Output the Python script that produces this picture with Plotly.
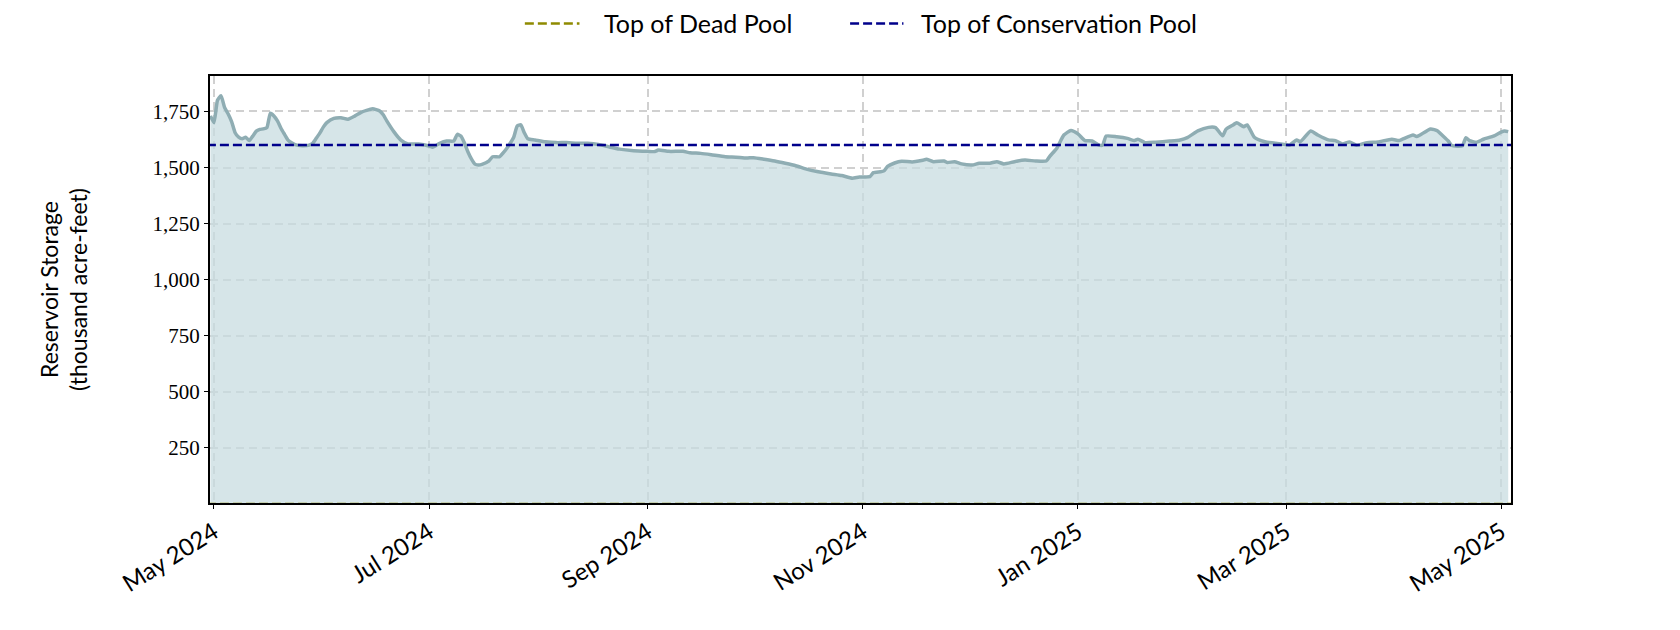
import plotly.graph_objects as go

# reservoir storage readings (thousand acre-feet)
dates = [
    "2024-04-30", "2024-05-01", "2024-05-02", "2024-05-03", "2024-05-04", "2024-05-05",
    "2024-05-06", "2024-05-07", "2024-05-08", "2024-05-09", "2024-05-10", "2024-05-11",
    "2024-05-12", "2024-05-13", "2024-05-14", "2024-05-15", "2024-05-16", "2024-05-17",
    "2024-05-18", "2024-05-19", "2024-05-20", "2024-05-21", "2024-05-22", "2024-05-23",
    "2024-05-24", "2024-05-26", "2024-05-28", "2024-05-29", "2024-05-30", "2024-05-31",
    "2024-06-01", "2024-06-02", "2024-06-04", "2024-06-06", "2024-06-08", "2024-06-10",
    "2024-06-12", "2024-06-14", "2024-06-15", "2024-06-17", "2024-06-18", "2024-06-19",
    "2024-06-21", "2024-06-23", "2024-06-25", "2024-06-28", "2024-07-01", "2024-07-02",
    "2024-07-04", "2024-07-06", "2024-07-08", "2024-07-09", "2024-07-10", "2024-07-11",
    "2024-07-12", "2024-07-13", "2024-07-14", "2024-07-15", "2024-07-16", "2024-07-18",
    "2024-07-19", "2024-07-21", "2024-07-22", "2024-07-23", "2024-07-24", "2024-07-25",
    "2024-07-26", "2024-07-27", "2024-07-28", "2024-07-29", "2024-07-31", "2024-08-03",
    "2024-08-06", "2024-08-09", "2024-08-12", "2024-08-15", "2024-08-18", "2024-08-21",
    "2024-08-24", "2024-08-28", "2024-09-01", "2024-09-03", "2024-09-04", "2024-09-07",
    "2024-09-11", "2024-09-13", "2024-09-16", "2024-09-19", "2024-09-23", "2024-09-26",
    "2024-09-29", "2024-10-01", "2024-10-04", "2024-10-07", "2024-10-10", "2024-10-13",
    "2024-10-16", "2024-10-19", "2024-10-23", "2024-10-26", "2024-10-29", "2024-10-31",
    "2024-11-03", "2024-11-04", "2024-11-06", "2024-11-07", "2024-11-08", "2024-11-10",
    "2024-11-12", "2024-11-15", "2024-11-18", "2024-11-19", "2024-11-21", "2024-11-24",
    "2024-11-25", "2024-11-27", "2024-11-29", "2024-12-02", "2024-12-04", "2024-12-07",
    "2024-12-09", "2024-12-11", "2024-12-14", "2024-12-17", "2024-12-20", "2024-12-23",
    "2024-12-24", "2024-12-26", "2024-12-28", "2024-12-30", "2025-01-01", "2025-01-03",
    "2025-01-05", "2025-01-07", "2025-01-08", "2025-01-09", "2025-01-12", "2025-01-15",
    "2025-01-17", "2025-01-18", "2025-01-20", "2025-01-23", "2025-01-27", "2025-01-30",
    "2025-02-01", "2025-02-04", "2025-02-07", "2025-02-09", "2025-02-11", "2025-02-12",
    "2025-02-14", "2025-02-15", "2025-02-17", "2025-02-18", "2025-02-20", "2025-02-23",
    "2025-02-26", "2025-03-01", "2025-03-02", "2025-03-04", "2025-03-05", "2025-03-08",
    "2025-03-10", "2025-03-13", "2025-03-15", "2025-03-17", "2025-03-19", "2025-03-21",
    "2025-03-24", "2025-03-27", "2025-03-31", "2025-04-02", "2025-04-03", "2025-04-06",
    "2025-04-07", "2025-04-08", "2025-04-11", "2025-04-13", "2025-04-14", "2025-04-16",
    "2025-04-17", "2025-04-20", "2025-04-21", "2025-04-22", "2025-04-24", "2025-04-26",
    "2025-04-29", "2025-05-01", "2025-05-02", "2025-05-03",
]
storage = [
    1730, 1700, 1800, 1820, 1768, 1740,
    1705, 1655, 1635, 1628, 1635, 1620,
    1640, 1662, 1670, 1672, 1678, 1742,
    1730, 1708, 1675, 1648, 1622, 1610,
    1602, 1597, 1600, 1608, 1630, 1653,
    1680, 1700, 1719, 1722, 1715, 1730,
    1748, 1758, 1762, 1752, 1735, 1708,
    1660, 1622, 1605, 1605, 1596, 1590,
    1608, 1618, 1618, 1648, 1640, 1610,
    1570, 1538, 1515, 1511, 1514, 1530,
    1548, 1548, 1565, 1585, 1608, 1635,
    1685, 1690, 1655, 1628, 1623, 1615,
    1611, 1611, 1608, 1608, 1603, 1592,
    1582, 1575, 1572, 1571, 1578, 1572,
    1572, 1566, 1563, 1557, 1548, 1546,
    1542, 1544, 1537, 1529, 1519, 1508,
    1493, 1482, 1471, 1464, 1452, 1458,
    1459, 1477, 1481, 1485, 1505, 1520,
    1528, 1525, 1532, 1537, 1526, 1529,
    1522, 1526, 1516, 1511, 1519, 1519,
    1526, 1516, 1526, 1533, 1529, 1529,
    1550, 1586, 1645, 1665, 1650, 1620,
    1618, 1600, 1600, 1640, 1637, 1630,
    1620, 1626, 1611, 1613, 1618, 1623,
    1633, 1663, 1679, 1678, 1641, 1671,
    1690, 1700, 1682, 1690, 1635, 1615,
    1608, 1602, 1600, 1623, 1615, 1663,
    1645, 1623, 1620, 1605, 1614, 1599,
    1611, 1614, 1626, 1620, 1626, 1645,
    1638, 1645, 1672, 1663, 1648, 1618,
    1598, 1597, 1633, 1620, 1613, 1626,
    1641, 1658, 1663, 1660,
]

dead_pool = 0
conservation_pool = 1600

pool_names = ["Top of Dead Pool", "Top of Conservation Pool"]
pool_levels = [dead_pool, conservation_pool]
pool_colors = ["#8f8a00", "#00008b"]

y_ticks = [250, 500, 750, 1000, 1250, 1500, 1750]
y_labels = ["250", "500", "750", "1,000", "1,250", "1,500", "1,750"]

sans = "Lato, 'Open Sans', sans-serif"
serif = "'Liberation Serif', 'DejaVu Serif', serif"
pool_dash = "9px,4px"

fig = go.Figure()

fig.add_trace(go.Scatter(
    x=dates,
    y=storage,
    mode="lines",
    line=dict(color="#8fadb3", width=3.5, shape="spline", smoothing=0.5),
    fill="tozeroy",
    fillcolor="rgba(200,220,224,0.75)",
    showlegend=False,
    hoverinfo="x+y",
))

for name, level, color in zip(pool_names, pool_levels, pool_colors):
    fig.add_trace(go.Scatter(
        x=["2024-04-29", "2025-05-04"],
        y=[level, level],
        mode="lines",
        name=name,
        showlegend=False,
        line=dict(color=color, width=2.5, dash=pool_dash),
    ))

# legend drawn by hand so the sample lines are long like matplotlib's
legend_y = 1.123
legend_slots = [(0.242, 0.284, 0.301), (0.492, 0.533, 0.545)]
for name, color, (x0, x1, xt) in zip(pool_names, pool_colors, legend_slots):
    fig.add_shape(
        type="line", xref="paper", yref="paper",
        x0=x0, x1=x1, y0=legend_y, y1=legend_y,
        line=dict(color=color, width=2.5, dash=pool_dash),
    )
    fig.add_annotation(
        text=name, xref="paper", yref="paper",
        x=xt, y=legend_y, xanchor="left", yanchor="middle",
        showarrow=False, font=dict(family=sans, size=25, color="black"),
    )

grid = dict(
    showgrid=True,
    gridcolor="#d0d0d0",
    griddash="8px,5px",
    gridwidth=1.5,
    showline=True,
    linecolor="black",
    linewidth=2,
    mirror=True,
    ticks="outside",
    ticklen=4,
    tickcolor="black",
    zeroline=False,
)

fig.update_layout(
    width=1680,
    height=630,
    paper_bgcolor="white",
    plot_bgcolor="white",
    margin=dict(l=202, r=177, t=68, b=135),
    font=dict(family=sans, size=24, color="black"),
    showlegend=False,
    xaxis=dict(
        type="date",
        range=["2024-04-29 21:00", "2025-05-03 19:00"],
        tick0="2024-05-01",
        dtick="M2",
        tickformat="%b %Y",
        tickangle=-32,
        tickfont=dict(family=sans, size=24),
        **grid,
    ),
    yaxis=dict(
        range=[4, 1908],
        tickvals=y_ticks,
        ticktext=y_labels,
        tickfont=dict(family=serif, size=21),
        title=dict(
            text="Reservoir Storage<br>(thousand acre-feet)",
            font=dict(family=sans, size=23),
            standoff=58,
        ),
        **grid,
    ),
)

fig.write_html("out.html")
